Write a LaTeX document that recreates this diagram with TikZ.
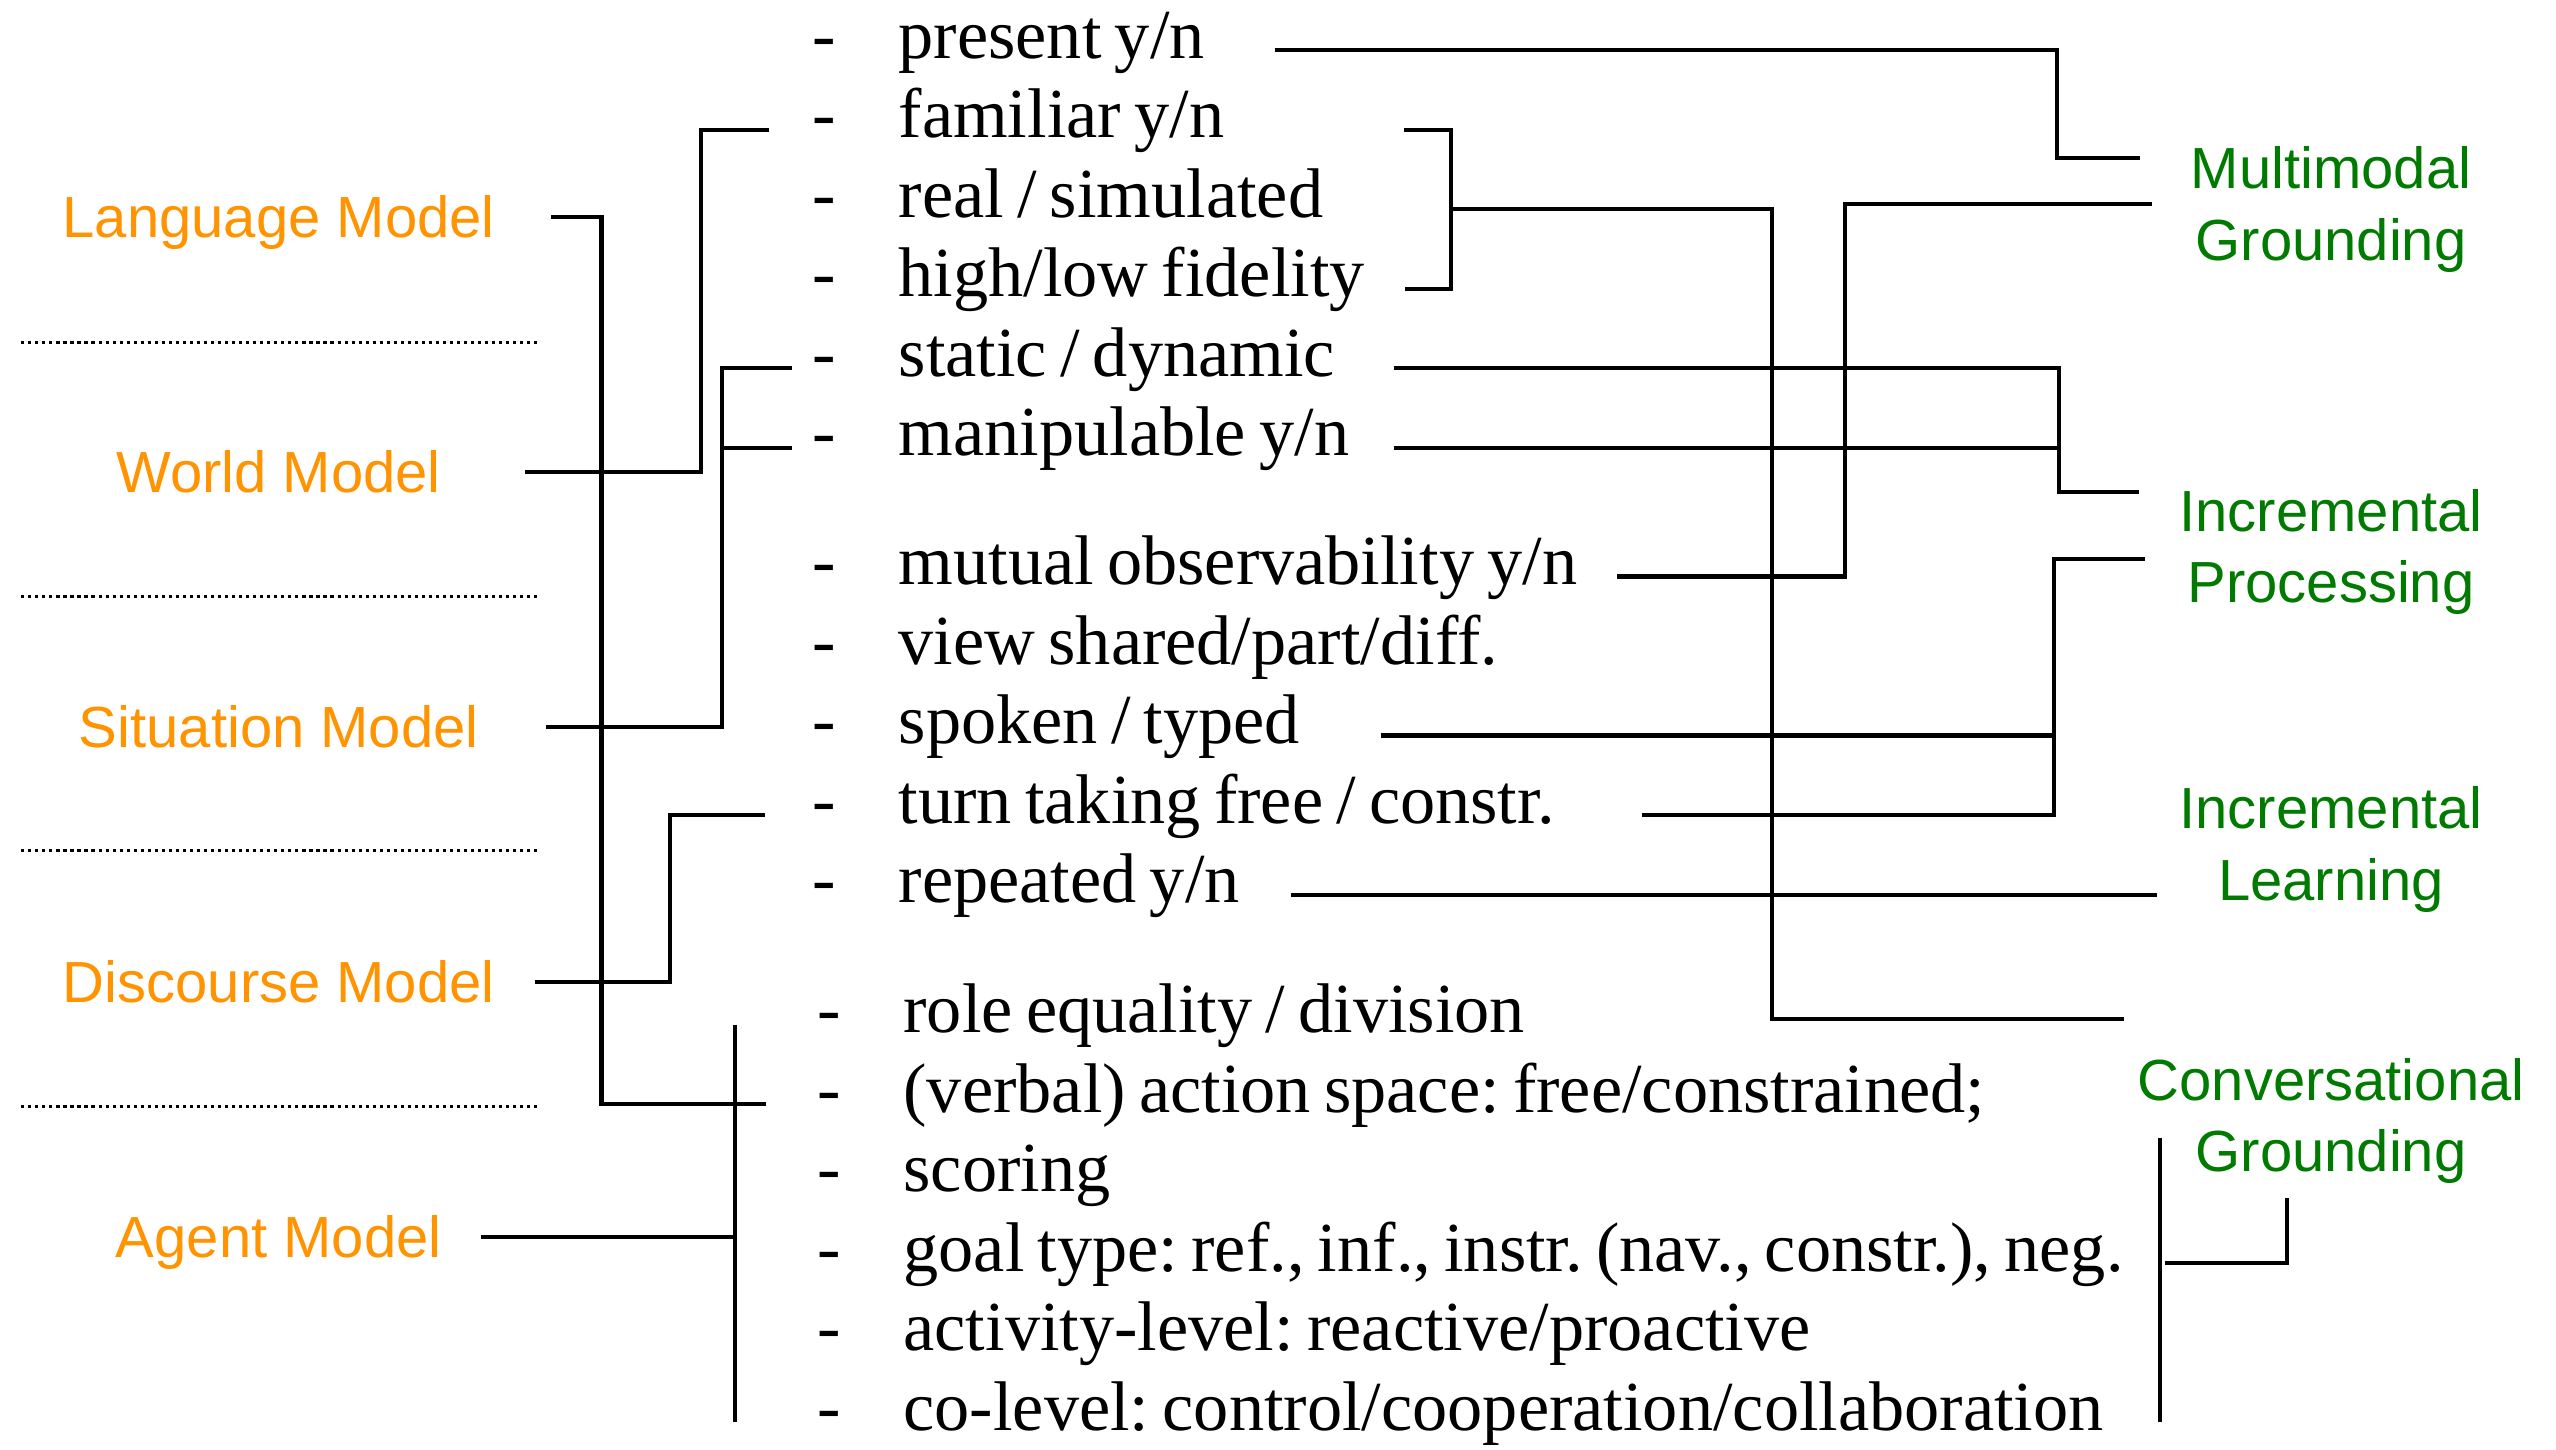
\documentclass[tikz,border=0pt]{standalone}
\usepackage{fontspec}
\setmainfont{Liberation Serif}[WordSpace=0.75]
\setsansfont{Liberation Sans}
\usepackage{tikz}
\usetikzlibrary{positioning}

\definecolor{modelorange}{RGB}{255,147,0}
\definecolor{goalgreen}{RGB}{0,122,0}
\newcommand{\bul}{\spaceskip=0pt\xspaceskip=0pt\makebox[24.6pt][l]{-}}
\frenchspacing

\begin{document}
\begin{tikzpicture} [
    x=0.16301mm,
    y=-0.16301mm,
    line width=1.2pt,
    node distance=0.7955cm,
  ]

  \tikzstyle{model} = [
    font=\sffamily\fontsize{16.5}{20}\selectfont,
    text=modelorange,
    inner sep=0pt,
    text height=11.8pt,
    text depth=0pt,
  ]
  \tikzstyle{target} = [
    font=\sffamily\fontsize{16.5}{20.4}\selectfont,
    text=goalgreen,
    inner sep=0pt,
    align=center,
  ]
  \tikzstyle{item} = [
    font=\fontsize{20}{24}\selectfont,
    inner sep=0pt,
    text width=18cm,
    align=left,
    text height=13.5pt,
    text depth=4.5pt,
  ]
  \tikzstyle{divider} = [
    line width=0.9pt,
    dash pattern=on 0.9pt off 1.1pt,
  ]

  \useasboundingbox (0,0) rectangle (1568,889);

  % models
  \node[model]                                        (lang)  at (171,133) {Language Model};
  \node[model, node distance=2.551cm, below of=lang]  (world) {World Model};
  \node[model, node distance=2.551cm, below of=world] (sit)   {Situation Model};
  \node[model, node distance=2.551cm, below of=sit]   (disc)  {Discourse Model};
  \node[model, node distance=2.551cm, below of=disc]  (agent) {Agent Model};

  \draw[divider] (13,210) -- (330,210);
  \draw[divider] (13,366) -- (330,366);
  \draw[divider] (13,522) -- (330,522);
  \draw[divider] (13,679) -- (330,679);

  % properties
  \node[item, anchor=west]                    (present) at (497,26) {\bul present y/n};
  \node[item, below of=present]               (famil)   {\bul familiar y/n};
  \node[item, below of=famil]                 (real)    {\bul real / simulated};
  \node[item, below of=real]                  (fidel)   {\bul high/low fidelity};
  \node[item, below of=fidel]                 (static)  {\bul static / dynamic};
  \node[item, below of=static]                (manip)   {\bul manipulable y/n};
  \node[item, below of=manip, yshift=-0.49cm] (mutual)  {\bul mutual observability y/n};
  \node[item, below of=mutual]                (view)    {\bul view shared/part/diff.};
  \node[item, below of=view]                  (spoken)  {\bul spoken / typed};
  \node[item, below of=spoken]                (turn)    {\bul turn taking free / constr.};
  \node[item, below of=turn]                  (repeat)  {\bul repeated y/n};
  \node[item, below of=repeat, yshift=-0.505cm, xshift=0.049cm] (role) {\bul role equality / division};
  \node[item, below of=role]                  (verbal)  {\bul (verbal) action space: free/constrained;};
  \node[item, below of=verbal]                (scoring) {\bul scoring};
  \node[item, below of=scoring]               (goaltype) {\bul goal type: ref., inf., instr. (nav., constr.), neg.};
  \node[item, below of=goaltype]              (activ)   {\bul activity-level: reactive/proactive};
  \node[item, below of=activ]                 (colevel) {\bul co-level: control/cooperation/collaboration};

  % targets
  \node[target] (mmg) at (1430,128.7) {Multimodal\\Grounding};
  \node[target] (ip)  at (1430,338.7) {Incremental\\Processing};
  \node[target] (il)  at (1430,521)   {Incremental\\Learning};
  \node[target] (cg)  at (1430,687.7) {Conversational\\Grounding};

  \coordinate (mmg-a) at (1313,97);
  \coordinate (mmg-b) at (1320,125);
  \coordinate (ip-a)  at (1312,302);
  \coordinate (ip-b)  at (1316,343);
  \coordinate (il-a)  at (1323,550);
  \coordinate (cg-a)  at (1303,625);
  \coordinate (cg-b)  at (1403,735);
  \coordinate (cg-c)  at (1325,698);

  % models to properties
  \draw (338,0 |- lang) -| (369,0 |- verbal.mid) -- (470,0 |- verbal.mid);
  \draw (322,0 |- world) -| (430,0 |- famil.mid) -- (472,0 |- famil.mid);
  \draw (335,0 |- sit) -| (443,0 |- static.mid) -- (486,0 |- static.mid);
  \draw (443,0 |- manip.mid) -- (486,0 |- manip.mid);
  \draw (328,0 |- disc) -| (411,0 |- turn.mid) -- (469,0 |- turn.mid);
  \draw (295,0 |- agent) -- (451,0 |- agent);
  \draw (451,0 |- role.mid) -- (451,0 |- colevel.mid);

  % properties to targets
  \draw (782,0 |- present.mid) -| (1262,0 |- mmg-a) -- (mmg-a);
  \draw (861,0 |- famil.mid) -| (890,0 |- fidel.mid) -- (862,0 |- fidel.mid);
  \draw (890,0 |- real.mid) -| (1087,0 |- cg-a) -- (cg-a);
  \draw (992,0 |- mutual.mid) -| (1132,0 |- mmg-b) -- (mmg-b);
  \draw (855,0 |- static.mid) -| (1263,0 |- ip-a) -- (ip-a);
  \draw (855,0 |- manip.mid) -- (1263,0 |- manip.mid);
  \draw (847,0 |- spoken.mid) -- (1260,0 |- spoken.mid);
  \draw (1007,0 |- turn.mid) -| (1260,0 |- ip-b) -- (ip-b);
  \draw (792,0 |- repeat.mid) -- (il-a |- repeat.mid);
  \draw (cg-c) -- (cg-c |- colevel.mid);
  \draw (1328,0 |- goaltype.mid) -| (cg-b);

\end{tikzpicture}
\end{document}
